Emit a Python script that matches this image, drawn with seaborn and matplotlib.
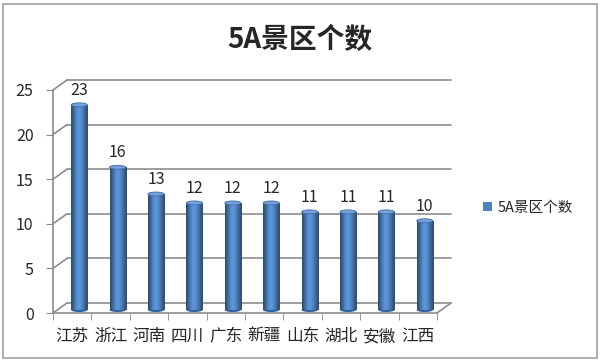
import numpy as np
import pandas as pd
import seaborn as sns
import matplotlib
matplotlib.use('Agg')
import matplotlib.pyplot as plt
from matplotlib.patches import Patch, Ellipse, Rectangle
from matplotlib.transforms import offset_copy

# data
provinces = ['江苏', '浙江', '河南', '四川', '广东', '新疆', '山东', '湖北', '安徽', '江西']
counts = [23, 16, 13, 12, 12, 12, 11, 11, 11, 10]
series_name = '5A景区个数'
y_ticks = [0, 5, 10, 15, 20, 25]

sns.set_style('white')
plt.rcParams['font.family'] = ['Noto Sans CJK SC', 'DejaVu Sans']

grid_color = '#8c8c8c'
bar_color = '#4f81bd'

fig = plt.figure(figsize=(6, 3.62), dpi=100)
W, H = 600, 362
# front plane of the 3d box, in pixels
left_px, right_px, top_px, bottom_px = 53, 437, 90, 313
ax = fig.add_axes([left_px / W, 1 - bottom_px / H,
                   (right_px - left_px) / W, (bottom_px - top_px) / H])

df = pd.DataFrame({'省份': provinces, series_name: counts})
sns.barplot(data=df, x='省份', y=series_name, color=bar_color, width=0.42,
            saturation=1, ax=ax, zorder=3)

ax.set_xlim(-0.5, len(provinces) - 0.5)
ax.set_ylim(0, 25)

# depth of the fake 3d box
depth_x, depth_y = 14, 10
dx = depth_x / ((right_px - left_px) / len(provinces))
dy = depth_y / ((bottom_px - top_px) / 25)

# back wall gridlines and left side wall
x0, x1 = -0.5, len(provinces) - 0.5
for v in y_ticks:
    ax.plot([x0 + dx, x1 + dx], [v + dy, v + dy], color=grid_color, lw=1.2,
            clip_on=False, zorder=1)
    ax.plot([x0, x0 + dx], [v, v + dy], color=grid_color, lw=1.2,
            clip_on=False, zorder=1)
ax.plot([x1, x1 + dx], [0, dy], color=grid_color, lw=1.2, clip_on=False, zorder=1)

# cylinder look for the bars
bar_trans = offset_copy(ax.transData, fig=fig, x=depth_x / 2, y=depth_y / 2 - 2, units='dots')
shade = np.array([0.6, 0.85, 1.05, 1.2, 1.12, 0.98, 0.8, 0.6])
base = np.array(matplotlib.colors.to_rgb(bar_color))
grad = np.clip(base[None, :] * shade[:, None], 0, 1)[None, :, :]
ell_h = 4 / ((bottom_px - top_px) / 25)
for rect in ax.patches:
    rect.set_transform(bar_trans)
    rect.set_edgecolor('none')
    x, w, h = rect.get_x(), rect.get_width(), rect.get_height()
    im = ax.imshow(grad, extent=[x, x + w, 0, h], aspect='auto',
                   transform=bar_trans, zorder=3, interpolation='bicubic')
    im.set_clip_path(rect)
    ax.add_patch(Ellipse((x + w / 2, 0), w, ell_h, transform=bar_trans,
                         facecolor='#2f5f9a', edgecolor='none', zorder=2.9, clip_on=False))
    ax.add_patch(Ellipse((x + w / 2, h), w, ell_h, transform=bar_trans,
                         facecolor='#75a0d8', edgecolor='#3d6ba6', lw=0.6,
                         zorder=4, clip_on=False))

# value labels
label_trans = offset_copy(ax.transData, fig=fig, x=depth_x / 2, y=depth_y / 2 + 4, units='dots')
for i, v in enumerate(counts):
    ax.text(i, v, str(v), transform=label_trans, ha='center', va='bottom',
            fontsize=11.5, zorder=5, clip_on=False)

# axes styling
for side in ['top', 'right']:
    ax.spines[side].set_visible(False)
for side in ['left', 'bottom']:
    ax.spines[side].set_color(grid_color)
    ax.spines[side].set_linewidth(1.2)
ax.set_yticks(y_ticks)
ax.set_yticklabels([str(t) for t in y_ticks], fontsize=11.5)
ax.tick_params(axis='y', direction='out', length=5, color=grid_color, pad=9, left=True)
ax.set_xticks(range(len(provinces)))
ax.set_xticklabels(provinces, fontsize=12)
ax.tick_params(axis='x', length=0, pad=11)
ax.set_xticks(np.arange(-0.5, len(provinces)), minor=True)
ax.tick_params(axis='x', which='minor', direction='out', length=5, color=grid_color,
               bottom=True)
ax.set_xlabel('')
ax.set_ylabel('')
ax.patch.set_alpha(0)

# title and legend
fig.text(0.5, 1 - 40 / H, series_name, ha='center', va='center', fontsize=20,
         fontweight='bold')
handles = [Patch(facecolor=bar_color, edgecolor='none', label=series_name)]
fig.legend(handles=handles, loc='center left', bbox_to_anchor=(483 / W, 1 - 208 / H),
           frameon=False, fontsize=10.5, handlelength=0.6, handleheight=0.6,
           handletextpad=0.4, borderpad=0, borderaxespad=0)

# outer border
fig.patches.append(Rectangle((3 / W, 4 / H), 594 / W, 354 / H, transform=fig.transFigure,
                             fill=False, edgecolor='#a0a0a0', lw=1.2))

fig.savefig('out.png', dpi=100)
